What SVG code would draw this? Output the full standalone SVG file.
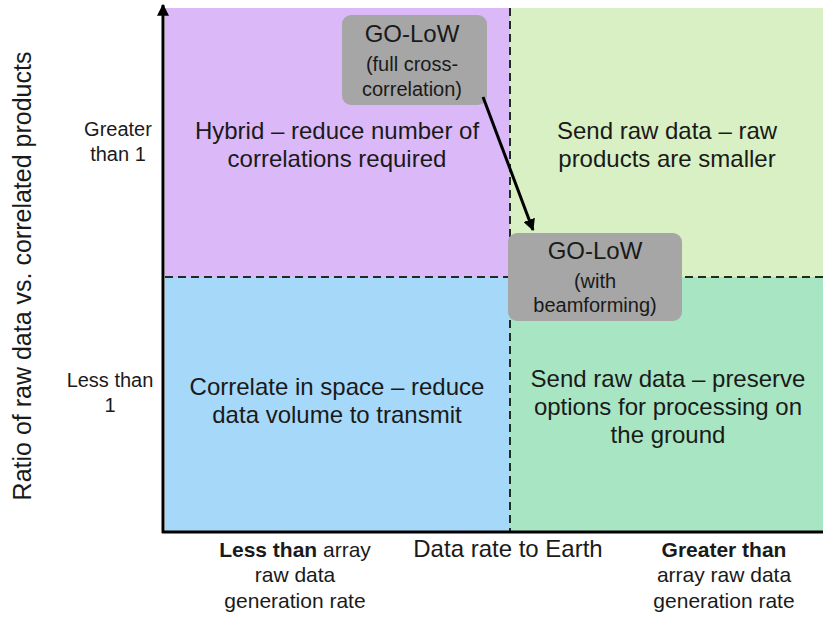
<svg xmlns="http://www.w3.org/2000/svg" width="823" height="618" viewBox="0 0 823 618">
<defs>
<style>
text{font-family:"Liberation Sans",Arial,sans-serif;fill:#1a1a1a;text-anchor:middle}
.q{font-size:24px}
.ax{font-size:20px}
.bx{font-size:21px}
.b1{font-size:24px}
.b2{font-size:20px}
.dash{stroke:#1e2e1e;stroke-width:2;stroke-dasharray:8 5;fill:none}
.box{fill:#a6a6a6}
</style>
<marker id="ah" viewBox="0 0 10 10" refX="9" refY="5" markerWidth="4" markerHeight="4" orient="auto-start-reverse" markerUnits="strokeWidth">
<path d="M0,0 L10,5 L0,10 z" fill="#000"/>
</marker>
</defs>
<rect width="823" height="618" fill="#fff"/>
<g id="quadrants">
<rect x="165" y="8" width="345" height="269" fill="#dbb8f7"/>
<rect x="510" y="8" width="313" height="269" fill="#d8f0c3"/>
<rect x="165" y="277" width="345" height="255" fill="#a6d8f9"/>
<rect x="510" y="277" width="313" height="255" fill="#a8e5c2"/>
</g>
<g id="dividers">
<line class="dash" x1="510" y1="8" x2="510" y2="532"/>
<line class="dash" x1="165" y1="277" x2="823" y2="277"/>
</g>
<g id="axes">
<line x1="163" y1="533" x2="163" y2="5" stroke="#000" stroke-width="3" marker-end="url(#ah)"/>
<line x1="162" y1="532" x2="823" y2="532" stroke="#000" stroke-width="3"/>
</g>
<g id="quadrant-labels">
<text class="q" x="337" y="139">Hybrid – reduce number of</text>
<text class="q" x="337" y="167">correlations required</text>
<text class="q" x="667" y="139">Send raw data – raw</text>
<text class="q" x="667" y="167">products are smaller</text>
<text class="q" x="337" y="395">Correlate in space – reduce</text>
<text class="q" x="337" y="423">data volume to transmit</text>
<text class="q" x="668" y="387">Send raw data – preserve</text>
<text class="q" x="668" y="415">options for processing on</text>
<text class="q" x="668" y="443">the ground</text>
</g>
<g id="y-labels">
<text class="ax" x="118" y="136">Greater</text>
<text class="ax" x="118" y="161">than 1</text>
<text class="ax" x="110" y="387">Less than</text>
<text class="ax" x="110" y="412">1</text>
<text class="q" transform="translate(31,276) rotate(-90)" style="font-size:25px">Ratio of raw data vs. correlated products</text>
</g>
<g id="x-labels">
<text class="bx" x="295" y="557"><tspan font-weight="bold">Less than</tspan> array</text>
<text class="bx" x="295" y="582">raw data</text>
<text class="bx" x="295" y="608">generation rate</text>
<text class="q" x="508" y="557">Data rate to Earth</text>
<text class="bx" x="724" y="557" font-weight="bold">Greater than</text>
<text class="bx" x="724" y="582">array raw data</text>
<text class="bx" x="724" y="608">generation rate</text>
</g>
<g id="node-full">
<rect class="box" x="342" y="15" width="145" height="90" rx="9"/>
<text class="b1" x="412" y="42">GO-LoW</text>
<text class="b2" x="412" y="71">(full cross-</text>
<text class="b2" x="412" y="96">correlation)</text>
</g>
<g id="node-beam">
<rect class="box" x="508" y="233" width="174" height="88" rx="9"/>
<text class="b1" x="595" y="259">GO-LoW</text>
<text class="b2" x="595" y="288">(with</text>
<text class="b2" x="595" y="312">beamforming)</text>
</g>
<g id="connectors">
<line x1="483" y1="97" x2="533" y2="230" stroke="#000" stroke-width="3" marker-end="url(#ah)"/>
</g>
</svg>
